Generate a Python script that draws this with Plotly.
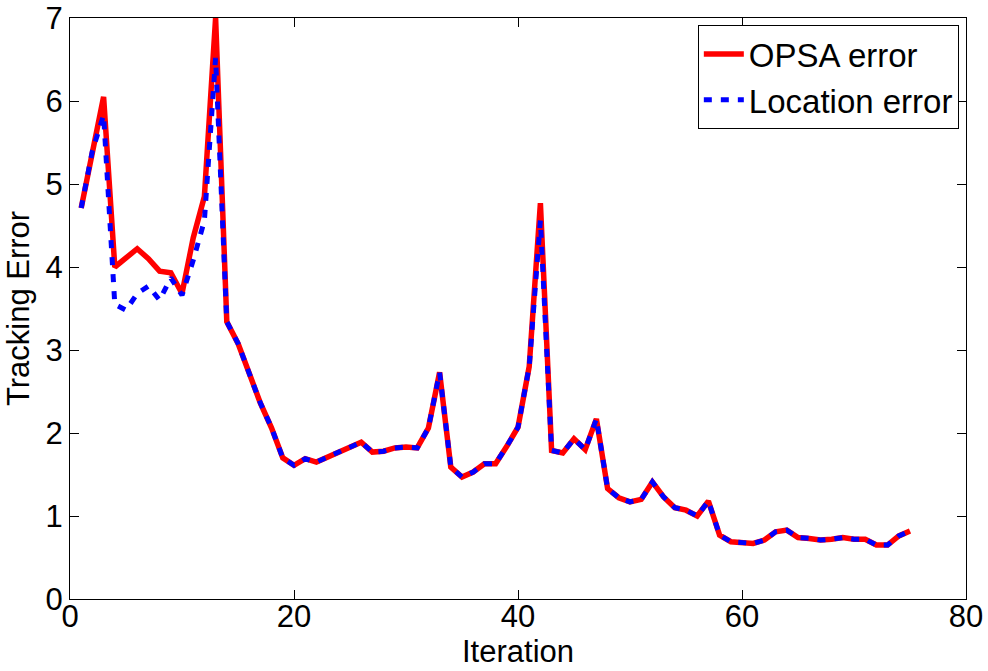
import plotly.graph_objects as go

# Tracking error per iteration
iterations = list(range(1, 76))

opsa_error = [
    4.71, 5.42, 6.05, 4.00, 4.12, 4.22, 4.10, 3.95, 3.93, 3.68,
    4.35, 4.85, 7.00, 3.34, 3.08, 2.72, 2.36, 2.06, 1.70, 1.61,
    1.69, 1.65, 1.71, 1.77, 1.84, 1.89, 1.77, 1.78, 1.82, 1.83,
    1.82, 2.06, 2.73, 1.59, 1.47, 1.53, 1.63, 1.63, 1.84, 2.07,
    2.80, 4.77, 1.79, 1.76, 1.93, 1.80, 2.17, 1.33, 1.22, 1.17,
    1.20, 1.41, 1.23, 1.10, 1.07, 1.00, 1.18, 0.77, 0.69, 0.68,
    0.67, 0.71, 0.81, 0.83, 0.74, 0.73, 0.71, 0.72, 0.74, 0.72,
    0.72, 0.65, 0.65, 0.76, 0.82,
]

location_error = [
    4.71, 5.40, 5.83, 3.55, 3.48, 3.68, 3.77, 3.60, 3.87, 3.66,
    4.08, 4.56, 6.52, 3.34, 3.08, 2.72, 2.36, 2.06, 1.70, 1.61,
    1.69, 1.65, 1.71, 1.77, 1.84, 1.89, 1.77, 1.78, 1.82, 1.83,
    1.82, 2.06, 2.73, 1.59, 1.47, 1.53, 1.63, 1.63, 1.84, 2.07,
    2.80, 4.56, 1.79, 1.76, 1.93, 1.80, 2.17, 1.33, 1.22, 1.17,
    1.20, 1.41, 1.23, 1.10, 1.07, 1.00, 1.18, 0.77, 0.69, 0.68,
    0.67, 0.71, 0.81, 0.83, 0.74, 0.73, 0.71, 0.72, 0.74, 0.72,
    0.72, 0.65, 0.65, 0.76, 0.82,
]

x_ticks = [0, 20, 40, 60, 80]
y_ticks = [0, 1, 2, 3, 4, 5, 6, 7]

FONT = "Liberation Sans, Arial, sans-serif"

fig = go.Figure()
fig.add_trace(go.Scatter(
    x=iterations, y=opsa_error, mode="lines", name="OPSA error",
    line=dict(color="#ff0000", width=5.5),
))
fig.add_trace(go.Scatter(
    x=iterations, y=location_error, mode="lines", name="Location error",
    line=dict(color="#0000ff", width=5, dash="8px,9px"),
))

axis_common = dict(
    showgrid=False, zeroline=False, automargin=False,
    showline=True, linecolor="black", linewidth=1.3,
    mirror="ticks", ticks="inside", ticklen=9, tickwidth=1, tickcolor="black",
    tickfont=dict(family=FONT, size=31, color="black"),
)

fig.update_xaxes(
    range=[0, 80], tickvals=x_ticks, ticklabelstandoff=-10,
    title=dict(text="Iteration", font=dict(family=FONT, size=31, color="black"), standoff=4),
    **axis_common,
)
fig.update_yaxes(
    range=[0, 7], tickvals=y_ticks,
    title=dict(text="Tracking Error", font=dict(family=FONT, size=31, color="black"), standoff=6),
    **axis_common,
)

fig.update_layout(
    width=988, height=671,
    margin=dict(l=70, r=22, t=18, b=72),
    paper_bgcolor="white", plot_bgcolor="white",
    font=dict(family=FONT, size=31, color="black"),
    showlegend=True,
    legend=dict(
        x=0.992, y=0.988, xanchor="right", yanchor="top",
        bgcolor="white", bordercolor="black", borderwidth=1,
        font=dict(family=FONT, size=33, color="black"),
        tracegroupgap=0, itemwidth=40,
    ),
)

fig.write_html("out.html")
